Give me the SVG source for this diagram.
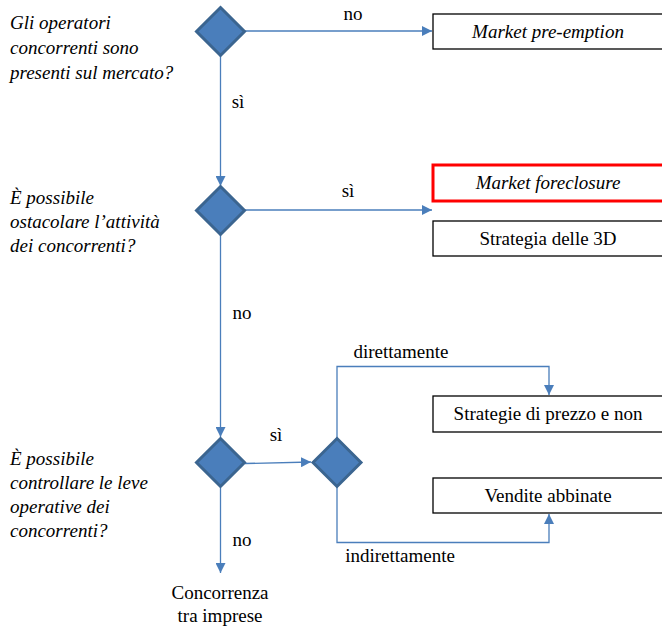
<svg xmlns="http://www.w3.org/2000/svg" width="662" height="626" viewBox="0 0 662 626">
<defs>
<marker id="a" viewBox="0 0 10 10" refX="10" refY="5" markerWidth="10" markerHeight="10" markerUnits="userSpaceOnUse" orient="auto">
<path d="M0,0 L10,5 L0,10 z" fill="#4a7ebb"/>
</marker>
</defs>
<rect width="662" height="626" fill="#fff"/>

<g id="connectors" fill="none" stroke="#4a7ebb" stroke-width="1.3">
<line x1="245" y1="31" x2="432" y2="31" marker-end="url(#a)"/>
<line x1="220.5" y1="56" x2="220.5" y2="186" marker-end="url(#a)"/>
<line x1="245" y1="210" x2="432" y2="210" marker-end="url(#a)"/>
<line x1="220.5" y1="235" x2="220.5" y2="437" marker-end="url(#a)"/>
<line x1="245" y1="463.5" x2="311" y2="462" marker-end="url(#a)"/>
<polyline points="337,438 337,366.5 549,366.5 549,395" marker-end="url(#a)"/>
<polyline points="337,487 337,542.5 549,542.5 549,514" marker-end="url(#a)"/>
<line x1="220.5" y1="488" x2="220.5" y2="573" marker-end="url(#a)"/>
</g>
<g id="connector-labels">
<text x="353" y="20" text-anchor="middle" font-family="Liberation Serif" font-size="19">no</text>
<text x="238" y="108" text-anchor="middle" font-family="Liberation Serif" font-size="19">s&#236;</text>
<text x="348" y="197" text-anchor="middle" font-family="Liberation Serif" font-size="19">s&#236;</text>
<text x="242" y="319" text-anchor="middle" font-family="Liberation Serif" font-size="19">no</text>
<text x="276" y="441" text-anchor="middle" font-family="Liberation Serif" font-size="19">s&#236;</text>
<text x="401" y="358" text-anchor="middle" font-family="Liberation Serif" font-size="19">direttamente</text>
<text x="400" y="562" text-anchor="middle" font-family="Liberation Serif" font-size="19">indirettamente</text>
<text x="242" y="546" text-anchor="middle" font-family="Liberation Serif" font-size="19">no</text>
</g>

<g id="q1">
<text x="10" y="29" font-family="Liberation Serif" font-size="19" font-style="italic">Gli operatori</text>
<text x="10" y="54" font-family="Liberation Serif" font-size="19" font-style="italic">concorrenti sono</text>
<text x="10" y="79" font-family="Liberation Serif" font-size="19" font-style="italic">presenti sul mercato?</text>
</g>
<g id="q2">
<text x="10" y="204" font-family="Liberation Serif" font-size="19" font-style="italic">&#200; possibile</text>
<text x="10" y="228" font-family="Liberation Serif" font-size="19" font-style="italic">ostacolare l&#8217;attivit&#224;</text>
<text x="10" y="252" font-family="Liberation Serif" font-size="19" font-style="italic">dei concorrenti?</text>
</g>
<g id="q3">
<text x="10" y="465" font-family="Liberation Serif" font-size="19" font-style="italic">&#200; possibile</text>
<text x="10" y="489" font-family="Liberation Serif" font-size="19" font-style="italic">controllare le leve</text>
<text x="10" y="513" font-family="Liberation Serif" font-size="19" font-style="italic">operative dei</text>
<text x="10" y="537" font-family="Liberation Serif" font-size="19" font-style="italic">concorrenti?</text>
</g>

<g id="d1"><polygon points="220.5,7.5 244.5,31.5 220.5,55.5 196.5,31.5" fill="#4a7ebb" stroke="#3b6590" stroke-width="3"/></g>
<g id="d2"><polygon points="220.5,186.5 244.5,210.5 220.5,234.5 196.5,210.5" fill="#4a7ebb" stroke="#3b6590" stroke-width="3"/></g>
<g id="d3"><polygon points="220.5,438.5 244.5,462.5 220.5,486.5 196.5,462.5" fill="#4a7ebb" stroke="#3b6590" stroke-width="3"/></g>
<g id="d4"><polygon points="337,438.5 361,462.5 337,486.5 313,462.5" fill="#4a7ebb" stroke="#3b6590" stroke-width="3"/></g>

<g id="n-preemption">
<rect x="433" y="14" width="240" height="35" fill="#fff" stroke="#000" stroke-width="1.3"/>
<text x="548" y="37.5" text-anchor="middle" font-family="Liberation Serif" font-size="19" font-style="italic">Market pre-emption</text>
</g>
<g id="n-foreclosure">
<rect x="433" y="165" width="240" height="36" fill="#fff" stroke="#ff0000" stroke-width="3"/>
<text x="548" y="189" text-anchor="middle" font-family="Liberation Serif" font-size="19" font-style="italic">Market foreclosure</text>
</g>
<g id="n-3d">
<rect x="433" y="221" width="240" height="35" fill="#fff" stroke="#000" stroke-width="1.3"/>
<text x="548" y="245" text-anchor="middle" font-family="Liberation Serif" font-size="19">Strategia delle 3D</text>
</g>
<g id="n-prezzo">
<rect x="433" y="396" width="240" height="36" fill="#fff" stroke="#000" stroke-width="1.3"/>
<text x="548" y="420" text-anchor="middle" font-family="Liberation Serif" font-size="19">Strategie di prezzo e non</text>
</g>
<g id="n-vendite">
<rect x="433" y="478" width="240" height="35" fill="#fff" stroke="#000" stroke-width="1.3"/>
<text x="548" y="502" text-anchor="middle" font-family="Liberation Serif" font-size="19">Vendite abbinate</text>
</g>
<g id="n-concorrenza">
<text x="220" y="599" text-anchor="middle" font-family="Liberation Serif" font-size="19">Concorrenza</text>
<text x="220" y="622" text-anchor="middle" font-family="Liberation Serif" font-size="19">tra imprese</text>
</g>
</svg>
